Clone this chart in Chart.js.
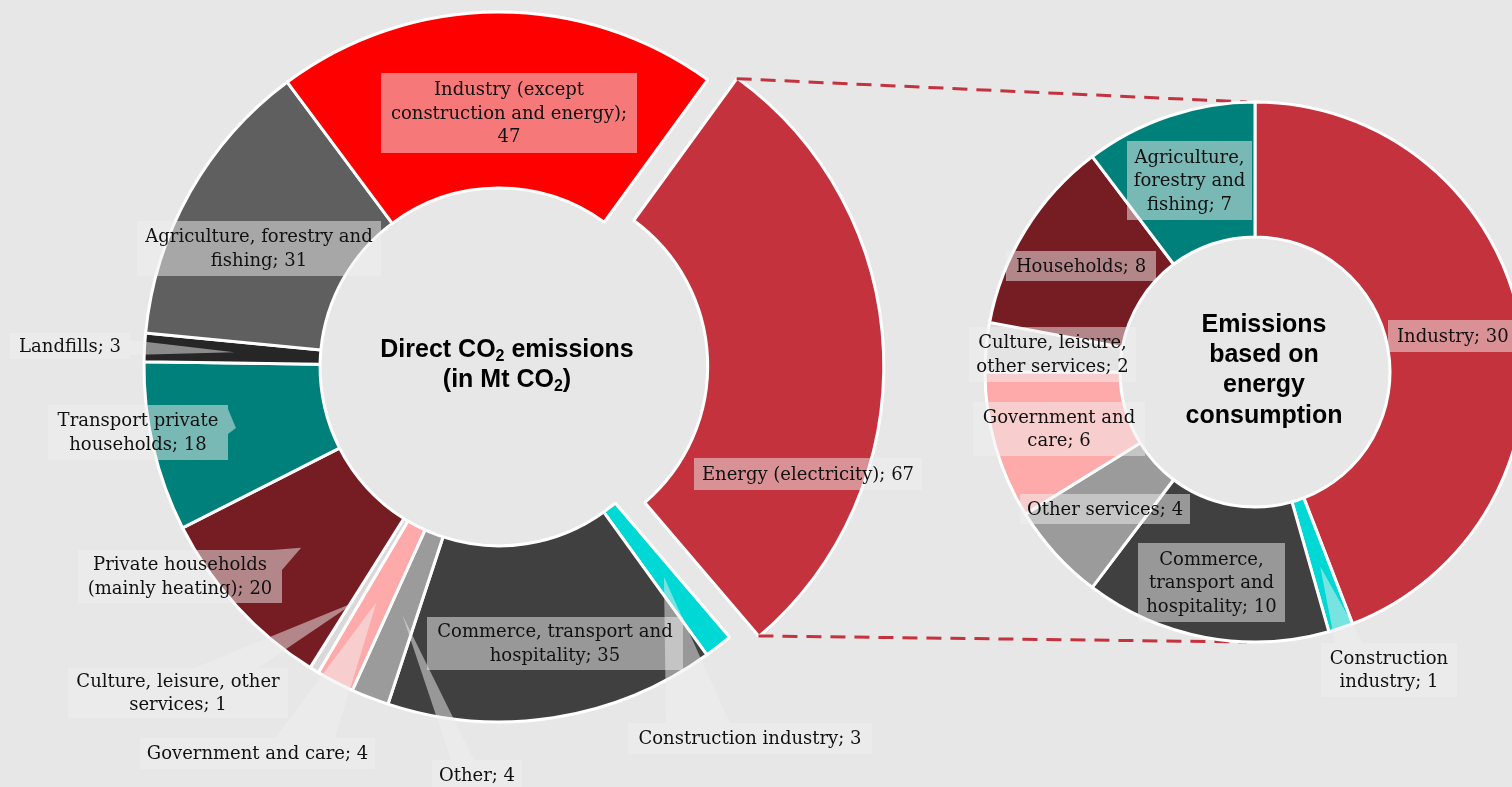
<!DOCTYPE html>
<html>
<head>
<meta charset="utf-8">
<script src="https://cdn.jsdelivr.net/npm/chart.js"></script>
<style>
    html, body { margin: 0; padding: 0; background: #e7e7e7; overflow: hidden; }
    #wrap { position: relative; width: 1512px; height: 787px; }
    #wrap canvas { position: absolute; left: 0; top: 0; }
</style>
</head>
<body>
<div id="wrap">
    <canvas id="directChart" width="1512" height="787"></canvas>
    <canvas id="energyChart" width="1512" height="787"></canvas>
</div>
<script>
// Direct CO2 emissions by sector (Mt CO2), clockwise from the energy slice
const directLabels = [
    "Energy (electricity)",
    "Construction industry",
    "Commerce, transport and hospitality",
    "Other",
    "Government and care",
    "Culture, leisure, other services",
    "Private households (mainly heating)",
    "Transport private households",
    "Landfills",
    "Agriculture, forestry and fishing",
    "Industry (except construction and energy)"
];
const directValues = [67, 3, 35, 4, 4, 1, 20, 18, 3, 31, 47];
const directColors = ["#c3323d", "#00d8d5", "#404040", "#9b9b9b", "#ffaaaa", "#d9d9d9",
    "#761d24", "#00807b", "#262626", "#5f5f5f", "#ff0000"];

// Energy sector emissions allocated to the consuming sectors, clockwise from the top
const energyLabels = [
    "Industry",
    "Construction industry",
    "Commerce, transport and hospitality",
    "Other services",
    "Government and care",
    "Culture, leisure, other services",
    "Households",
    "Agriculture, forestry and fishing"
];
const energyValues = [30, 1, 10, 4, 6, 2, 8, 7];
const energyColors = ["#c3323d", "#00d8d5", "#404040", "#9b9b9b", "#ffaaaa", "#d9d9d9",
    "#761d24", "#00807b"];

// label boxes: [x, y, w, h], wrap width, optional wedge pointing into the slice
const directCallouts = [
    { box: [694, 458, 228, 32], wrap: 240 },
    { box: [628, 723, 244, 31], wrap: 260, pointer: { r: 267, base: [[666, 723], [730, 723]] } },
    { box: [427, 617, 256, 53], wrap: 245 },
    { box: [432, 760, 90, 30], wrap: 100, pointer: { r: 266, base: [[451, 760], [474, 760]] } },
    { box: [140, 738, 235, 31], wrap: 250, pointer: { r: 265, base: [[275, 738], [335, 738]] } },
    { box: [68, 668, 220, 50], wrap: 215, pointer: { r: 275, base: [[194, 668], [258, 668]] } },
    { box: [78, 550, 204, 53], wrap: 200, pointer: { r: 268, base: [[272, 550], [282, 570]] } },
    { box: [48, 405, 180, 55], wrap: 175, pointer: { r: 270, base: [[228, 409], [228, 434]] } },
    { box: [10, 333, 120, 26], wrap: 200, pointer: { r: 265, base: [[130, 340], [130, 355]] } },
    { box: [137, 221, 244, 55], wrap: 240 },
    { box: [381, 73, 256, 80], wrap: 245 }
];

const energyCallouts = [
    { box: [1388, 320, 140, 32], wrap: 200, align: "left" },
    { box: [1321, 643, 136, 54], wrap: 130, pointer: { r: 205, base: [[1335, 643], [1363, 643]] } },
    { box: [1138, 543, 147, 79], wrap: 140 },
    { box: [1020, 494, 170, 30], wrap: 180 },
    { box: [973, 402, 172, 54], wrap: 165 },
    { box: [969, 327, 167, 55], wrap: 165 },
    { box: [1006, 251, 150, 30], wrap: 160 },
    { box: [1127, 141, 125, 79], wrap: 120 }
];

const LABEL_FONT = '18px "DejaVu Serif"';
const LINE_H = 23.5;
const BOX_FILL = "rgba(240,240,240,0.5)";

function wrapText(ctx, text, maxWidth) {
    const words = text.split(" ");
    const lines = [];
    let line = "";
    words.forEach(function (w) {
        const test = line ? line + " " + w : w;
        if (line && ctx.measureText(test).width > maxWidth) {
            lines.push(line);
            line = w;
        } else {
            line = test;
        }
    });
    if (line) lines.push(line);
    return lines;
}

// bold centre caption, segments flagged as subscript are drawn smaller and lower
function drawCaption(ctx, rows, cx, y0, lh) {
    ctx.save();
    ctx.fillStyle = "#000";
    ctx.textBaseline = "middle";
    ctx.textAlign = "left";
    const big = 'bold 25px "Liberation Sans"';
    const small = 'bold 16px "Liberation Sans"';
    rows.forEach(function (segs, k) {
        let total = 0;
        segs.forEach(function (s) {
            ctx.font = s[1] ? small : big;
            total += ctx.measureText(s[0]).width;
        });
        let x = cx - total / 2;
        const y = y0 + k * lh;
        segs.forEach(function (s) {
            ctx.font = s[1] ? small : big;
            ctx.fillText(s[0], x, s[1] ? y + 7 : y);
            x += ctx.measureText(s[0]).width;
        });
    });
    ctx.restore();
}

function calloutPlugin(callouts, caption) {
    return {
        id: "callouts",
        afterDatasetsDraw(chart) {
            const ctx = chart.ctx;
            const meta = chart.getDatasetMeta(0);
            const labels = chart.data.labels;
            const values = chart.data.datasets[0].data;
            ctx.save();
            ctx.font = LABEL_FONT;
            callouts.forEach(function (c, i) {
                const [x, y, w, h] = c.box;
                ctx.beginPath();
                ctx.rect(x, y, w, h);
                if (c.pointer) {
                    const arc = meta.data[i];
                    const mid = (arc.startAngle + arc.endAngle) / 2;
                    const tip = [arc.x + Math.cos(mid) * c.pointer.r, arc.y + Math.sin(mid) * c.pointer.r];
                    let p = [c.pointer.base[0], tip, c.pointer.base[1]];
                    // keep the wedge wound the same way as the rect so one fill covers both
                    const area = (p[1][0] - p[0][0]) * (p[2][1] - p[0][1]) - (p[2][0] - p[0][0]) * (p[1][1] - p[0][1]);
                    if (area < 0) p = [p[2], p[1], p[0]];
                    ctx.moveTo(p[0][0], p[0][1]);
                    ctx.lineTo(p[1][0], p[1][1]);
                    ctx.lineTo(p[2][0], p[2][1]);
                    ctx.closePath();
                }
                ctx.fillStyle = BOX_FILL;
                ctx.fill("nonzero");

                ctx.fillStyle = "#111";
                ctx.textBaseline = "middle";
                const lines = wrapText(ctx, labels[i] + "; " + values[i], c.wrap);
                const cy = y + h / 2 + 1;
                lines.forEach(function (ln, k) {
                    const ly = cy + (k - (lines.length - 1) / 2) * LINE_H;
                    if (c.align === "left") {
                        ctx.textAlign = "left";
                        ctx.fillText(ln, x + 9, ly);
                    } else {
                        ctx.textAlign = "center";
                        ctx.fillText(ln, x + w / 2, ly);
                    }
                });
            });
            ctx.restore();
            drawCaption(ctx, caption.rows, caption.x, caption.y, caption.lh);
        }
    };
}

const directChart = new Chart(document.getElementById("directChart"), {
    type: "doughnut",
    data: {
        labels: directLabels,
        datasets: [{
            data: directValues,
            backgroundColor: directColors,
            borderColor: "#ffffff",
            borderWidth: 3,
            offset: [116, 0, 0, 0, 0, 0, 0, 0, 0, 0, 0],
            hoverOffset: 0,
            clip: false
        }]
    },
    options: {
        responsive: false,
        animation: false,
        events: [],
        radius: 355,
        cutout: "50.4%",
        rotation: 36,
        layout: { padding: { left: 0, right: 514, top: 0, bottom: 53 } },
        plugins: {
            legend: { display: false },
            tooltip: { enabled: false }
        }
    },
    plugins: [calloutPlugin(directCallouts, {
        rows: [
            [["Direct CO", false], ["2", true], [" emissions", false]],
            [["(in Mt CO", false], ["2", true], [")", false]]
        ],
        x: 507, y: 350, lh: 30
    })]
});

// dashed leader from the energy slice to the right-hand breakdown
const linkPlugin = {
    id: "energyLink",
    beforeDatasetsDraw(chart) {
        const src = directChart.getDatasetMeta(0).data[0];
        const dst = chart.getDatasetMeta(0).data[0];
        const shift = (src.options.offset || 0) / 4;
        const mid = (src.startAngle + src.endAngle) / 2;
        const ox = src.x + Math.cos(mid) * shift;
        const oy = src.y + Math.sin(mid) * shift;
        const r = src.outerRadius;
        const ctx = chart.ctx;
        ctx.save();
        ctx.strokeStyle = "#c3323d";
        ctx.lineWidth = 3;
        ctx.setLineDash([15, 9]);
        ctx.beginPath();
        ctx.moveTo(ox + Math.cos(src.startAngle) * r, oy + Math.sin(src.startAngle) * r);
        ctx.lineTo(dst.x - 8, dst.y - dst.outerRadius);
        ctx.moveTo(ox + Math.cos(src.endAngle) * r, oy + Math.sin(src.endAngle) * r);
        ctx.lineTo(dst.x - 8, dst.y + dst.outerRadius);
        ctx.stroke();
        ctx.restore();
    }
};

const energyChart = new Chart(document.getElementById("energyChart"), {
    type: "doughnut",
    data: {
        labels: energyLabels,
        datasets: [{
            data: energyValues,
            backgroundColor: energyColors,
            borderColor: "#ffffff",
            borderWidth: 3,
            hoverOffset: 0,
            clip: false
        }]
    },
    options: {
        responsive: false,
        animation: false,
        events: [],
        radius: 270,
        cutout: "50%",
        rotation: 0,
        layout: { padding: { left: 998, right: 0, top: 0, bottom: 43 } },
        plugins: {
            legend: { display: false },
            tooltip: { enabled: false }
        }
    },
    plugins: [linkPlugin, calloutPlugin(energyCallouts, {
        rows: [
            [["Emissions", false]],
            [["based on", false]],
            [["energy", false]],
            [["consumption", false]]
        ],
        x: 1264, y: 325, lh: 30.3
    })]
});
</script>
</body>
</html>
